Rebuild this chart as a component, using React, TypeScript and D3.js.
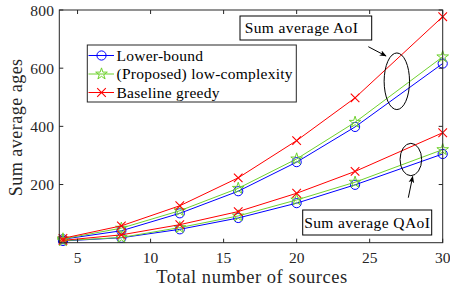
import React from "react";
import * as d3 from "d3";

const sources = [4, 8, 12, 16, 20, 24, 30];
const aoiLower = [12, 41, 101, 177, 277, 398, 616];
const aoiProposed = [13, 50, 110, 187, 288, 414, 639];
const aoiBaseline = [15, 58, 127, 223, 351, 498, 777];
const qaoiLower = [6, 17, 46, 85, 136, 199, 305];
const qaoiProposed = [7, 18, 52, 92, 147, 208, 320];
const qaoiBaseline = [8, 27, 62, 107, 170, 245, 378];
const xTicks = [5, 10, 15, 20, 25, 30];
const yTicks = [200, 400, 600, 800];
const legendLabels = ["Lower-bound", "(Proposed) low-complexity", "Baseline greedy"];

const W = 450, H = 291;
const M = { left: 59.3, right: 442.7, top: 10, bottom: 242.7 };
const FONT = "'Liberation Serif', 'DejaVu Serif', serif";
const BLUE = "#0000ff", GREEN = "#6fd12e", RED = "#ff0000";

const x = d3.scaleLinear().domain([3.75, 30]).range([M.left, M.right]);
const y = d3.scaleLinear().domain([0, 800]).range([M.bottom, M.top]);

type Kind = "circle" | "star" | "x";

function Marker({ cx, cy, kind, color }: { cx: number; cy: number; kind: Kind; color: string }) {
  if (kind === "circle") return <circle cx={cx} cy={cy} r={4.6} fill="none" stroke={color} strokeWidth={1} />;
  if (kind === "star") {
    const p = d3.symbol().type(d3.symbolStar).size(42)();
    return <path d={p || ""} transform={`translate(${cx},${cy})`} fill="none" stroke={color} strokeWidth={1} />;
  }
  const s = 4.3;
  return (
    <path d={`M${cx - s},${cy - s}L${cx + s},${cy + s}M${cx - s},${cy + s}L${cx + s},${cy - s}`} stroke={color} strokeWidth={1.1} fill="none" />
  );
}

const series: { vals: number[]; kind: Kind; color: string }[] = [
  { vals: aoiLower, kind: "circle", color: BLUE },
  { vals: aoiProposed, kind: "star", color: GREEN },
  { vals: aoiBaseline, kind: "x", color: RED },
  { vals: qaoiLower, kind: "circle", color: BLUE },
  { vals: qaoiProposed, kind: "star", color: GREEN },
  { vals: qaoiBaseline, kind: "x", color: RED },
];

export default function App() {
  const line = d3.line<number>().x((_, i) => x(sources[i])).y((v) => y(v));
  const tickLen = 4;
  return (
    <svg width={W} height={H} style={{ position: "absolute", left: 0, top: 0, background: "#fff" }} fontFamily={FONT}>
      <defs>
        <marker id="ah" viewBox="0 0 10 10" refX="9" refY="5" markerWidth="7" markerHeight="7" orient="auto-start-reverse">
          <path d="M0,1L10,5L0,9L2.5,5Z" fill="#000" />
        </marker>
      </defs>
      <rect x={0} y={0} width={W} height={H} fill="#fff" />
      {series.map((s, si) => (
        <g key={si}>
          <path d={line(s.vals) || ""} fill="none" stroke={s.color} strokeWidth={1} />
          {s.vals.map((v, i) => (
            <Marker key={i} cx={x(sources[i])} cy={y(v)} kind={s.kind} color={s.color} />
          ))}
        </g>
      ))}
      <rect x={M.left} y={M.top} width={M.right - M.left} height={M.bottom - M.top} fill="none" stroke="#262626" strokeWidth={1} />
      {xTicks.map((t) => (
        <g key={t}>
          <line x1={x(t)} x2={x(t)} y1={M.bottom} y2={M.bottom - tickLen} stroke="#262626" />
          <line x1={x(t)} x2={x(t)} y1={M.top} y2={M.top + tickLen} stroke="#262626" />
          <text x={x(t)} y={M.bottom + 20.5} textAnchor="middle" fontSize={15.5} fill="#262626">{t}</text>
        </g>
      ))}
      {yTicks.map((t) => (
        <g key={t}>
          <line x1={M.left} x2={M.left + tickLen} y1={y(t)} y2={y(t)} stroke="#262626" />
          <line x1={M.right} x2={M.right - tickLen} y1={y(t)} y2={y(t)} stroke="#262626" />
          <text x={M.left - 5} y={y(t) + 5.5} textAnchor="end" fontSize={15.5} fill="#262626" letterSpacing={0.3}>{t}</text>
        </g>
      ))}
      <text x={(M.left + M.right) / 2 + 1} y={282.5} textAnchor="middle" fontSize={18.5} letterSpacing={0.55} fill="#262626">Total number of sources</text>
      <text transform={`translate(22,${(M.top + M.bottom) / 2 + 1}) rotate(-90)`} textAnchor="middle" fontSize={18} letterSpacing={0.5} fill="#262626">Sum average ages</text>
      <g>
        <rect x={87.3} y={45} width={209} height={57} fill="#fff" stroke="#262626" strokeWidth={1} />
        {legendLabels.map((lab, i) => {
          const ly = 55.5 + i * 18.5;
          const s = series[i];
          return (
            <g key={lab}>
              <line x1={88.5} x2={114} y1={ly} y2={ly} stroke={s.color} strokeWidth={1} />
              <Marker cx={101.5} cy={ly} kind={s.kind} color={s.color} />
              <text x={116.5} y={ly + 5} fontSize={15.5} letterSpacing={0.25} fill="#000">{lab}</text>
            </g>
          );
        })}
      </g>
      <rect x={240} y={16} width={131.7} height={24} fill="#fff" stroke="#000" strokeWidth={1} />
      <text x={301.5} y={33} textAnchor="middle" fontSize={15.5} letterSpacing={0.4} fill="#000">Sum average AoI</text>
      <line x1={368.3} y1={46.7} x2={386} y2={56} stroke="#000" strokeWidth={1} markerEnd="url(#ah)" />
      <ellipse cx={x(26.86)} cy={y(555)} rx={12.7} ry={28.3} fill="none" stroke="#000" strokeWidth={1} />
      <rect x={302.7} y={210} width={129} height={25} fill="#fff" stroke="#000" strokeWidth={1} />
      <text x={367.2} y={227.5} textAnchor="middle" fontSize={15.5} letterSpacing={0.4} fill="#000">Sum average QAoI</text>
      <line x1={408.3} y1={197.7} x2={412.7} y2={176.5} stroke="#000" strokeWidth={1} markerEnd="url(#ah)" />
      <ellipse cx={x(27.82)} cy={y(286)} rx={10.8} ry={16.2} fill="none" stroke="#000" strokeWidth={1} />
    </svg>
  );
}
